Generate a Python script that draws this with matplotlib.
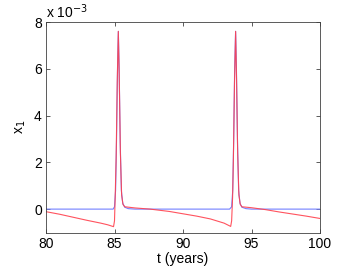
import matplotlib
matplotlib.use("Agg")
import matplotlib.pyplot as plt
import numpy as np

plt.rcParams['font.family'] = ['Liberation Sans', 'DejaVu Sans']

# time points (years) and x_1 values (units of 1e-3)
t_blue = [80, 84.9, 85.0, 85.08, 85.15, 85.22, 85.28, 85.34, 85.42, 85.5, 85.6, 85.75, 86.0, 86.5,
          93.4, 93.55, 93.63, 93.7, 93.77, 93.84, 93.9, 93.98, 94.06, 94.16, 94.3, 94.6, 95.0, 100]
x_blue = [0, 0, 0.1, 0.8, 3.0, 6.0, 7.6, 6.0, 2.8, 0.8, 0.25, 0.08, 0.02, 0,
          0, 0.1, 0.8, 3.0, 6.0, 7.6, 6.0, 2.8, 0.8, 0.25, 0.08, 0.02, 0, 0]

t_red = [80, 81, 82, 83, 84, 84.5, 84.93, 85.0, 85.05, 85.12, 85.2, 85.28, 85.35, 85.43, 85.52,
         85.62, 85.75, 86.5, 87.6, 89, 90, 91, 92, 93, 93.48, 93.55, 93.62, 93.68, 93.76, 93.84,
         93.91, 93.99, 94.08, 94.18, 94.3, 95, 96, 97, 98, 99, 100]
x_red = [-0.11, -0.22, -0.35, -0.48, -0.6, -0.67, -0.75, -0.5, 0.5, 2.2, 5.4, 7.6, 5.5, 2.4, 0.6,
         0.2, 0.1, 0.05, 0.0, -0.1, -0.2, -0.3, -0.42, -0.6, -0.74, -0.5, 0.5, 2.2, 5.4, 7.6,
         5.5, 2.4, 0.6, 0.2, 0.1, 0.06, -0.02, -0.12, -0.21, -0.3, -0.4]

fig = plt.figure(figsize=(3.54, 2.67), dpi=100)
ax = fig.add_axes([46/354, 1 - 232.5/267, 274/354, 210.5/267])

ax.plot(t_blue, np.array(x_blue) * 1e-3, color=(0.45, 0.5, 1.0), lw=0.8)
ax.plot(t_red, np.array(x_red) * 1e-3, color=(1.0, 0.25, 0.3), lw=0.8, alpha=0.9)

ax.set_xlim(80, 100)
ax.set_ylim(-1e-3, 8e-3)
ax.set_xticks([80, 85, 90, 95, 100])
ax.set_yticks([0, 2e-3, 4e-3, 6e-3, 8e-3])
ax.set_yticklabels(['0', '2', '4', '6', '8'])
ax.tick_params(direction='in', top=True, right=True, length=3, width=0.6,
               labelsize=10, colors='0.25', labelcolor='black', pad=3)
for s in ax.spines.values():
    s.set_linewidth(0.6)
    s.set_color('0.25')

ax.text(0.0, 1.005, r'x 10$^{-3}$', transform=ax.transAxes, fontsize=10,
        ha='left', va='bottom')
ax.set_xlabel('t (years)', fontsize=10, labelpad=1)
ax.set_ylabel(r'x$_1$', fontsize=10, labelpad=4)

fig.savefig('out.png', dpi=100)
